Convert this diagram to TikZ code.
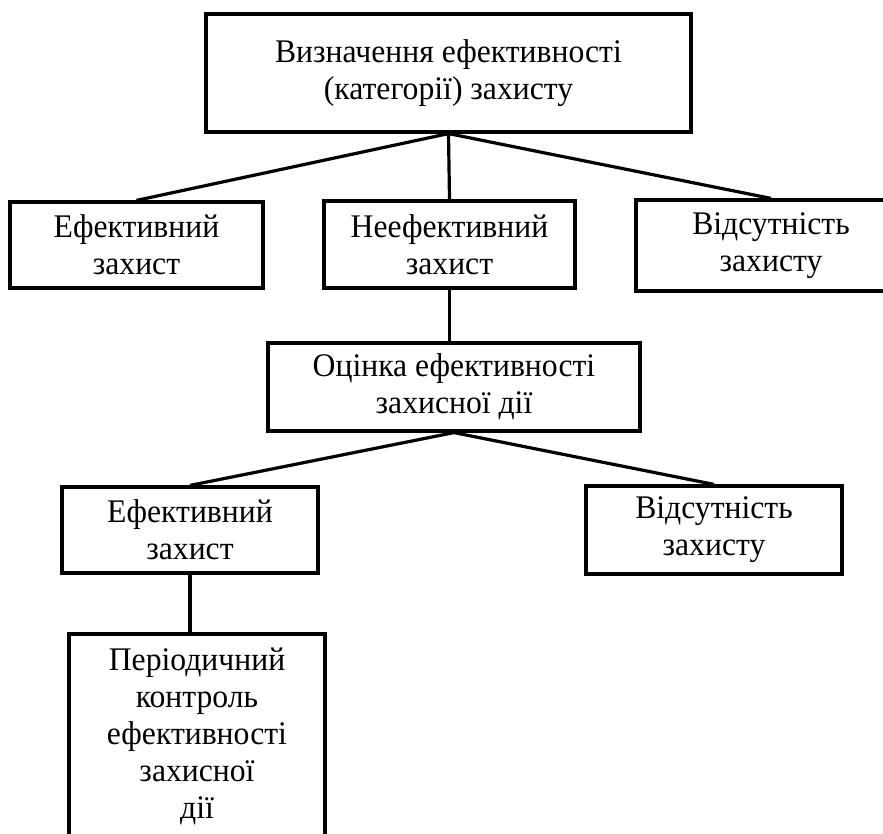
\documentclass[tikz,border=0pt]{standalone}
\usepackage{fontspec}
\setmainfont[FakeStretch=0.96]{Liberation Serif}
\begin{document}
\begin{tikzpicture}[x=0.5pt,y=-0.5pt,
  box/.style={draw,line width=1.6pt,align=center,inner sep=0pt,
    font=\fontsize{16.5pt}{18.5pt}\selectfont},
  link/.style={line width=1.6pt}]
  \useasboundingbox (0,0) rectangle (883,834);

  % Top level
  \node[box,minimum width=242.5pt,minimum height=59pt] (top) at (448.5,73)
    {Визначення ефективності\\(категорії) захисту};

  % Categories
  \node[box,minimum width=126.5pt,minimum height=43pt] (eff) at (136.5,245)
    {Ефективний\\захист};
  \node[box,minimum width=125.5pt,minimum height=43.5pt] (ineff) at (449.5,244.5)
    {Неефективний\\захист};
  \node[box,minimum width=135pt,minimum height=45.5pt] (absent) at (771,245.5)
    {Відсутність\\захисту};

  % Assessment
  \node[box,minimum width=186pt,minimum height=44pt] (assess) at (454,387)
    {Оцінка ефективності\\захисної дії};
  \node[box,minimum width=128pt,minimum height=43pt] (effb) at (190,530)
    {Ефективний\\захист};
  \node[box,minimum width=128pt,minimum height=44pt] (absentb) at (714,530)
    {Відсутність\\захисту};

  % Periodic control
  \node[box,minimum width=128pt,minimum height=102pt] (control) at (197,736)
    {Періодичний\\контроль\\ефективності\\захисної\\дії};

  % Links
  \draw[link] (eff.north) -- (top.south) -- (absent.north);
  \draw[link] (top.south) -- (ineff.north);
  \draw[link] (ineff.south) -- (ineff.south |- assess.north);
  \draw[link] (effb.north) -- (assess.south) -- (absentb.north);
  \draw[link] (effb.south) -- (effb.south |- control.north);
\end{tikzpicture}
\end{document}
